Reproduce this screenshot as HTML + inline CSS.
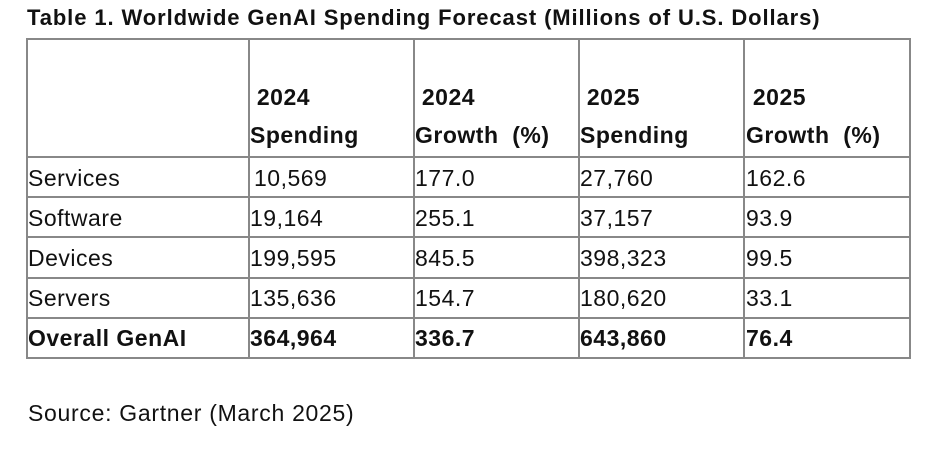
<!DOCTYPE html>
<html><head><meta charset="utf-8"><style>
body{margin:0;width:948px;height:449px;background:#fff;position:relative;overflow:hidden;font-family:"Liberation Sans",sans-serif;color:#111}
.t{position:absolute;white-space:nowrap}
.h{position:absolute;background:#888;height:2px}
.v{position:absolute;background:#888;width:2px;top:38px;height:321px}
.c{position:absolute;font-size:23px;line-height:40px;white-space:nowrap;letter-spacing:0.5px}
.b{font-weight:bold}
</style></head><body>
<div class="t b" style="left:27px;top:5px;font-size:22px;letter-spacing:0.9px">Table 1. Worldwide GenAI Spending Forecast (Millions of U.S. Dollars)</div>
<div>
<div class="h" style="left:26px;width:885px;top:38px"></div>
<div class="h" style="left:26px;width:885px;top:156px"></div>
<div class="h" style="left:26px;width:885px;top:196px"></div>
<div class="h" style="left:26px;width:885px;top:236px"></div>
<div class="h" style="left:26px;width:885px;top:277px"></div>
<div class="h" style="left:26px;width:885px;top:317px"></div>
<div class="h" style="left:26px;width:885px;top:357px"></div>
<div class="v" style="left:26px"></div><div class="v" style="left:248px"></div><div class="v" style="left:413px"></div><div class="v" style="left:578px"></div><div class="v" style="left:743px"></div><div class="v" style="left:909px"></div>
<div class="c b" style="left:250px;top:78px;line-height:38px">&nbsp;2024<br>Spending</div>
<div class="c b" style="left:415px;top:78px;line-height:38px">&nbsp;2024<br>Growth&nbsp; (%)</div>
<div class="c b" style="left:580px;top:78px;line-height:38px">&nbsp;2025<br>Spending</div>
<div class="c b" style="left:746px;top:78px;line-height:38px">&nbsp;2025<br>Growth&nbsp; (%)</div>
<div>
<div class="c" style="left:28px;top:158px">Services</div><div class="c" style="left:254px;top:158px">10,569</div><div class="c" style="left:415px;top:158px">177.0</div><div class="c" style="left:580px;top:158px">27,760</div><div class="c" style="left:746px;top:158px">162.6</div></div>
<div>
<div class="c" style="left:28px;top:198px">Software</div><div class="c" style="left:250px;top:198px">19,164</div><div class="c" style="left:415px;top:198px">255.1</div><div class="c" style="left:580px;top:198px">37,157</div><div class="c" style="left:746px;top:198px">93.9</div></div>
<div>
<div class="c" style="left:28px;top:238px">Devices</div><div class="c" style="left:250px;top:238px">199,595</div><div class="c" style="left:415px;top:238px">845.5</div><div class="c" style="left:580px;top:238px">398,323</div><div class="c" style="left:746px;top:238px">99.5</div></div>
<div>
<div class="c" style="left:28px;top:278px">Servers</div><div class="c" style="left:250px;top:278px">135,636</div><div class="c" style="left:415px;top:278px">154.7</div><div class="c" style="left:580px;top:278px">180,620</div><div class="c" style="left:746px;top:278px">33.1</div></div>
<div>
<div class="c b" style="left:28px;top:318px">Overall GenAI</div><div class="c b" style="left:250px;top:318px">364,964</div><div class="c b" style="left:415px;top:318px">336.7</div><div class="c b" style="left:580px;top:318px">643,860</div><div class="c b" style="left:746px;top:318px">76.4</div></div>
</div>
<div class="t" style="left:28px;top:400px;font-size:23px;letter-spacing:0.7px">Source: Gartner (March 2025)</div>
</body></html>
